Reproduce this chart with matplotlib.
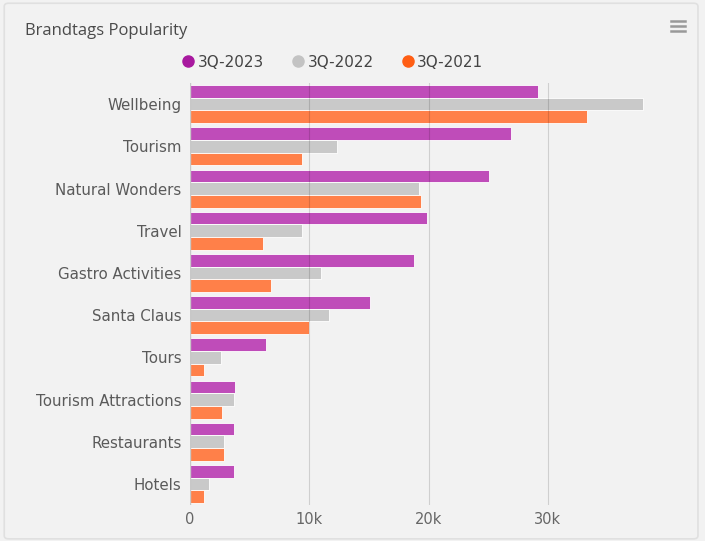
import numpy as np
import matplotlib
matplotlib.use('Agg')
import matplotlib.pyplot as plt
from matplotlib.lines import Line2D
from matplotlib.patches import FancyBboxPatch

# Data (values in thousands)
categories = ['Wellbeing', 'Tourism', 'Natural Wonders', 'Travel', 'Gastro Activities',
              'Santa Claus', 'Tours', 'Tourism Attractions', 'Restaurants', 'Hotels']
q3_2023 = [29.2, 26.9, 25.1, 19.9, 18.8, 15.1, 6.4, 3.8, 3.7, 3.7]
q3_2022 = [38.0, 12.3, 19.2, 9.4, 11.0, 11.7, 2.6, 3.7, 2.9, 1.6]
q3_2021 = [33.3, 9.4, 19.4, 6.1, 6.8, 10.0, 1.2, 2.7, 2.9, 1.2]
series_names = ['3Q-2023', '3Q-2022', '3Q-2021']
tick_values = [0, 10, 20, 30]
tick_labels = ['0', '10k', '20k', '30k']

bar_colors = ['#bf4cb9', '#c9c9c9', '#ff8049']
dot_colors = ['#a8199f', '#c3c3c3', '#ff5e14']
bg = '#f2f2f2'

fig = plt.figure(figsize=(7.05, 5.41), dpi=100, facecolor=bg)

# chart frame
frame = FancyBboxPatch((0.006, 0.004), 0.984, 0.99, boxstyle='round,pad=0,rounding_size=0.006',
                       transform=fig.transFigure, facecolor=bg, edgecolor='#e0e0e0', lw=1.2,
                       zorder=-10)
fig.patches.append(frame)

ax = fig.add_axes([0.2691, 0.0665, 0.7096, 0.780])
ax.set_facecolor(bg)
ax.set_zorder(1)

y = np.arange(len(categories))
h = 0.30
for i, (vals, c) in enumerate(zip([q3_2023, q3_2022, q3_2021], bar_colors)):
    ax.barh(y + (i - 1) * h, vals, height=h, color=c, edgecolor='white', linewidth=0.6, zorder=2)

for t in tick_values[1:]:
    ax.axvline(t, color='#000000', alpha=0.14, lw=0.8, zorder=3)
ax.axvline(0, color='#c8c8c8', lw=1, zorder=3)

ax.set_xlim(0, 41.9)
ax.set_ylim(len(categories) - 0.5, -0.5)
ax.set_yticks(y)
ax.set_yticklabels(categories, fontsize=10.8, color='#5a5a5a')
ax.set_xticks(tick_values)
ax.set_xticklabels(tick_labels, fontsize=10.5, color='#666666')
ax.tick_params(axis='y', length=0, pad=6)
ax.tick_params(axis='x', length=0, pad=5)
for s in ax.spines.values():
    s.set_visible(False)

# title and menu icon
fig.text(0.035, 0.943, 'Brandtags Popularity', fontsize=12, color='#4a4a4a',
         fontfamily='Open Sans', va='center', ha='left')
for yy in [0.961, 0.952, 0.943]:
    fig.add_artist(Line2D([0.952, 0.972], [yy, yy], transform=fig.transFigure,
                          color='#999999', lw=1.8))

# legend
handles = [Line2D([], [], marker='o', ls='', markersize=8, color=c) for c in dot_colors]
fig.legend(handles, series_names, loc='center', bbox_to_anchor=(0.471, 0.885), ncol=3,
           frameon=False, fontsize=11, handletextpad=0.1, columnspacing=1.75,
           labelcolor='#444444', handlelength=1.0)

fig.savefig('out.png', dpi=100, facecolor=bg)
